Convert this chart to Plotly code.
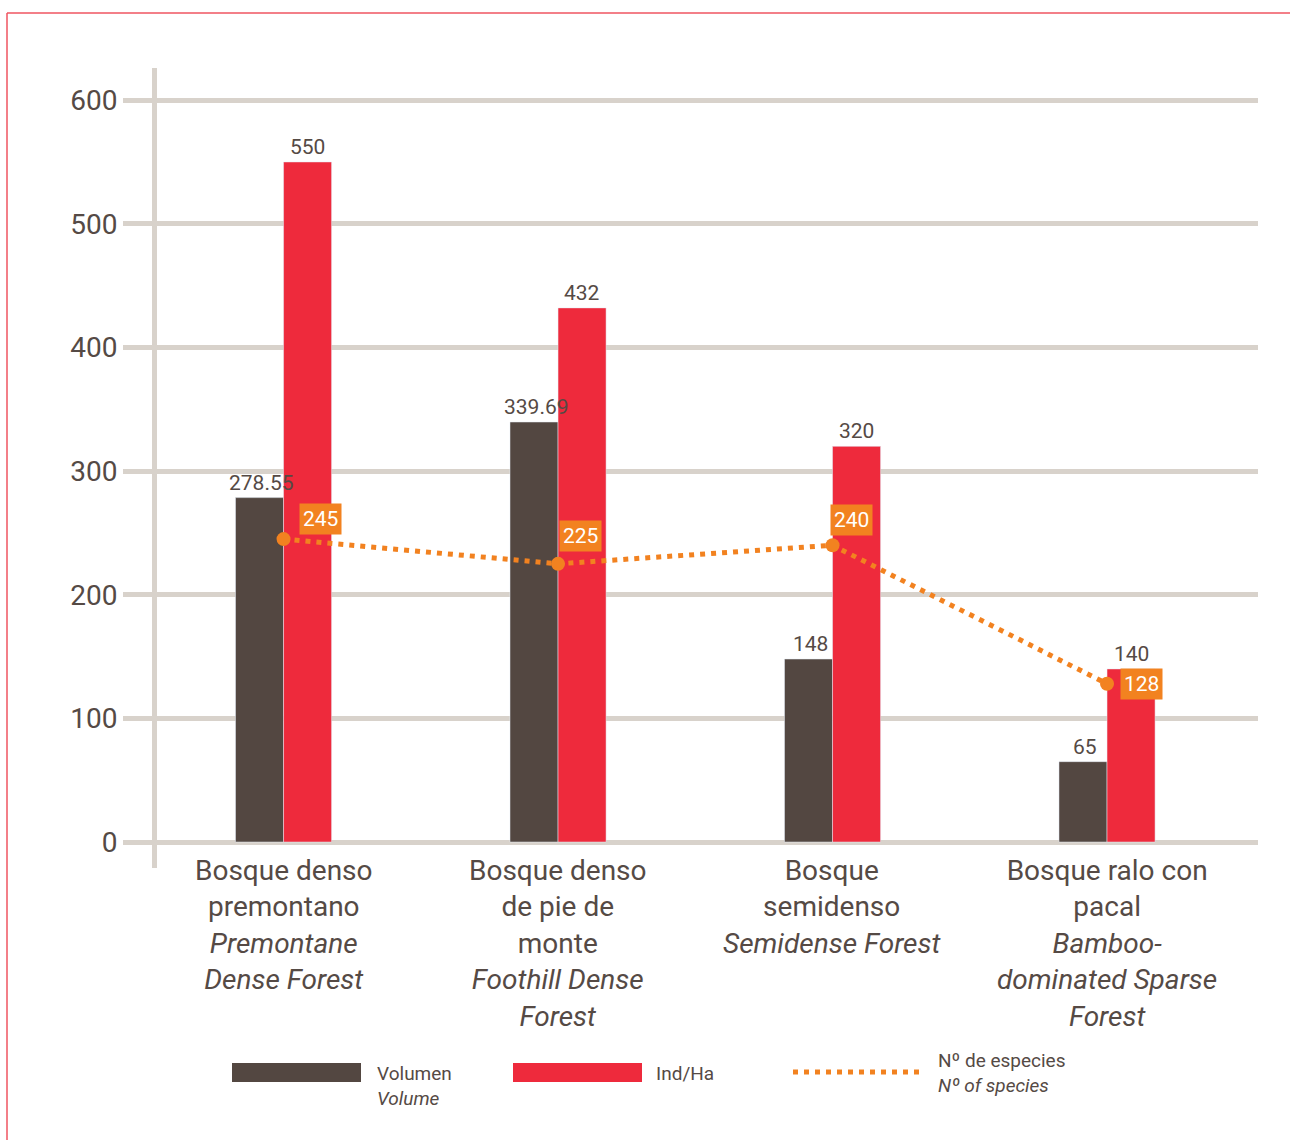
import plotly.graph_objects as go

# data
cats = [
    "Bosque denso<br>premontano<br><i>Premontane<br>Dense Forest</i>",
    "Bosque denso<br>de pie de<br>monte<br><i>Foothill Dense<br>Forest</i>",
    "Bosque<br>semidenso<br><i>Semidense Forest</i>",
    "Bosque ralo con<br>pacal<br><i>Bamboo-<br>dominated Sparse<br>Forest</i>",
]
volumen = [278.55, 339.69, 148, 65]
ind_ha = [550, 432, 320, 140]
especies = [245, 225, 240, 128]
y_ticks = [0, 100, 200, 300, 400, 500, 600]

x = list(range(len(cats)))

TXT = "#554a45"
DARK = "#534741"
RED = "#ee2a3c"
ORANGE = "#f28220"
GRID = "#d8d2cb"
FONT = "Roboto"

# plot area in pixels: x 157..1258, y 68..868
L, R, T, B = 157, 32, 68, 272
W, H = 1290, 1140
pw, ph = W - L - R, H - T - B


def px(xp):
    return (xp - L) / pw


def py(yp):
    return (H - B - yp) / ph


fig = go.Figure()
fig.add_trace(go.Bar(x=x, y=volumen, name="Volumen", marker_color=DARK))
fig.add_trace(go.Bar(x=x, y=ind_ha, name="Ind/Ha", marker_color=RED))
fig.add_trace(go.Scatter(x=x, y=especies, mode="lines+markers", name="Nº de especies",
                         line=dict(color=ORANGE, width=5, dash="5px,6px"),
                         marker=dict(color=ORANGE, size=14), cliponaxis=False))

# bar value labels (on top of everything, like the reference)
for i in x:
    fig.add_annotation(x=i, y=volumen[i], text=f"{volumen[i]:g}", showarrow=False, xanchor="center",
                       yanchor="bottom", xshift=-22, yshift=1, font=dict(size=21, color=TXT, family=FONT))
    fig.add_annotation(x=i, y=ind_ha[i], text=f"{ind_ha[i]:g}", showarrow=False, xanchor="center",
                       yanchor="bottom", xshift=24, yshift=1, font=dict(size=21, color=TXT, family=FONT))

# orange value boxes next to the species points
box_shift = [(15, 20), (1, 28), (-3, 25), (13, 0)]
for i, v in enumerate(especies):
    fig.add_annotation(x=i, y=v, text=str(v), showarrow=False, xanchor="left", yanchor="middle",
                       xshift=box_shift[i][0], yshift=box_shift[i][1], bgcolor=ORANGE, borderpad=3,
                       font=dict(size=21, color="white", family=FONT))

# category labels
for i, c in enumerate(cats):
    fig.add_annotation(x=i, y=0, text=c, showarrow=False, xanchor="center", yanchor="top",
                       yshift=-10, align="center", font=dict(size=28, color=TXT, family=FONT))

# custom legend
fig.add_shape(type="rect", xref="paper", yref="paper", x0=px(232), x1=px(361), y0=py(1082), y1=py(1063),
              fillcolor=DARK, line_width=0)
fig.add_shape(type="rect", xref="paper", yref="paper", x0=px(513), x1=px(642), y0=py(1082), y1=py(1063),
              fillcolor=RED, line_width=0)
fig.add_shape(type="line", xref="paper", yref="paper", x0=px(793), x1=px(925), y0=py(1072), y1=py(1072),
              line=dict(color=ORANGE, width=5, dash="5px,6px"))
legend_txt = [(375, 1060, "Volumen<br><i>Volume</i>"), (654, 1060, "Ind/Ha"),
              (936, 1047, "Nº de especies<br><i>Nº of species</i>")]
for xp, yp, t in legend_txt:
    fig.add_annotation(xref="paper", yref="paper", x=px(xp), y=py(yp), text=t, showarrow=False,
                       xanchor="left", yanchor="top", align="left",
                       font=dict(size=19, color=TXT, family=FONT))

# red page frame
fig.add_shape(type="line", xref="paper", yref="paper", x0=px(7), x1=px(1290), y0=py(13), y1=py(13),
              line=dict(color="#ef5560", width=1.5))
fig.add_shape(type="line", xref="paper", yref="paper", x0=px(7), x1=px(7), y0=py(13), y1=py(1140),
              line=dict(color="#ef5560", width=1.5))

fig.update_layout(
    width=W, height=H, margin=dict(l=L, r=R, t=T, b=B),
    paper_bgcolor="white", plot_bgcolor="white",
    barmode="group", bargap=0.65, bargroupgap=0, showlegend=False,
    font=dict(family=FONT, color=TXT),
)
fig.update_xaxes(range=[-0.461, 3.55], showticklabels=False, showgrid=False, zeroline=False,
                 showline=False, ticks="")
fig.update_yaxes(range=[-21, 626], tickvals=y_ticks, showgrid=True, gridcolor=GRID, gridwidth=5,
                 zeroline=False, showline=True, linecolor=GRID, linewidth=5,
                 ticks="outside", ticklen=29, tickwidth=5, tickcolor=GRID,
                 tickfont=dict(size=28, color=TXT, family=FONT))

fig.write_html("out.html", config={"displayModeBar": False},
               post_script="document.body.style.margin='0';")
